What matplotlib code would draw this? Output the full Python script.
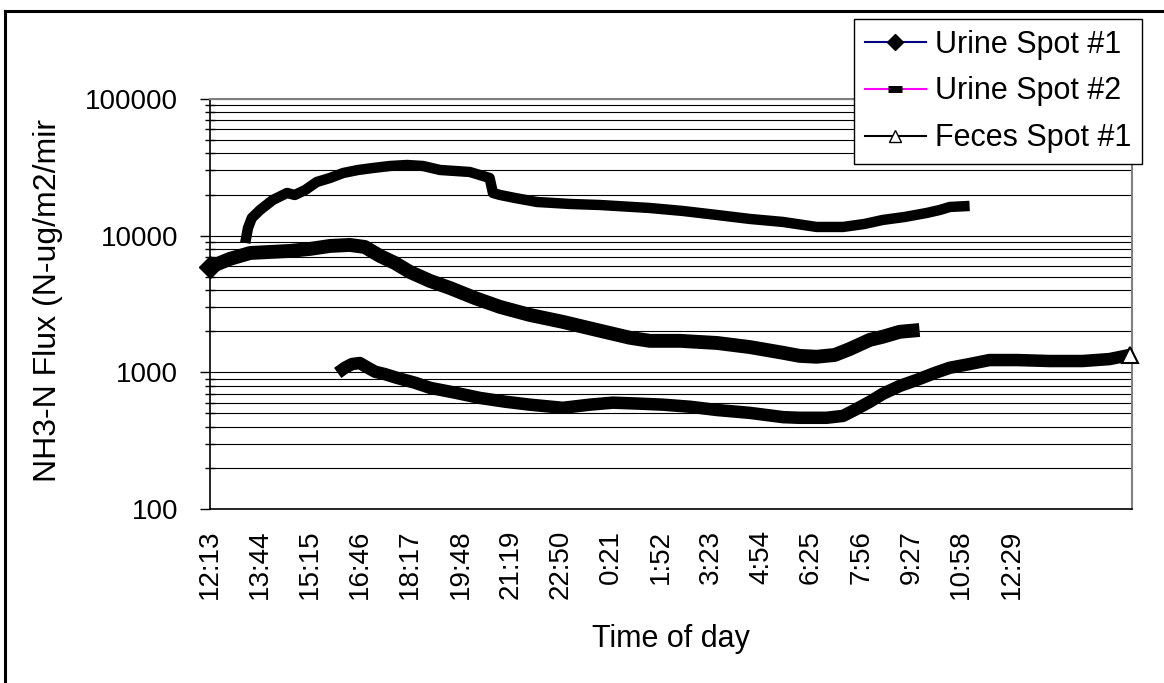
import matplotlib.pyplot as plt
import numpy as np
from matplotlib.lines import Line2D
from matplotlib.ticker import FixedLocator, LogLocator, NullFormatter

plt.rcParams['font.family'] = ['Liberation Sans', 'DejaVu Sans']

# minutes after 12:13, and flux values
u1_t = [0, 36, 73, 109, 145, 182, 218, 254, 281, 309, 336, 363, 400, 436, 481,
        527, 581, 641, 703, 763, 799, 854, 921, 981, 1041, 1071, 1102, 1135,
        1162, 1199, 1222, 1253, 1289]
u1_v = [5900, 6760, 7470, 7600, 7730, 8000, 8410, 8550, 8270, 7100, 6310, 5430,
        4660, 4140, 3500, 3010, 2630, 2340, 2040, 1790, 1700, 1700, 1640, 1530,
        1390, 1320, 1300, 1340, 1480, 1730, 1820, 1980, 2040]

u2_t = [64, 69, 76, 91, 114, 140, 154, 173, 194, 218, 242, 269, 296, 327, 358,
        387, 418, 445, 472, 508, 514, 527, 554, 594, 654, 708, 799, 859, 921,
        981, 1041, 1102, 1150, 1189, 1222, 1262, 1302, 1326, 1344, 1380]
u2_v = [8850, 11390, 13480, 15420, 18240, 20530, 19850, 21590, 24710, 26430,
        28750, 30240, 31270, 32350, 32900, 32350, 30240, 29740, 29240, 26430,
        20530, 19850, 18870, 17640, 17060, 16770, 15940, 15160, 14170, 13250,
        12600, 11580, 11580, 12180, 13030, 13700, 14660, 15420, 16220, 16500]

f1_t = [232, 245, 258, 272, 287, 300, 318, 340, 372, 400, 445, 490, 536, 581,
        641, 690, 732, 781, 823, 872, 921, 981, 1041, 1071, 1120, 1150, 1171,
        1199, 1222, 1253, 1284, 1317, 1344, 1380, 1416, 1466, 1525, 1585, 1634,
        1671]
f1_v = [990, 1080, 1150, 1170, 1080, 1010, 970, 910, 840, 770, 710, 650, 610,
        580, 550, 580, 600, 590, 580, 560, 530, 505, 470, 465, 465, 480, 530,
        610, 695, 795, 880, 990, 1080, 1150, 1230, 1230, 1210, 1210, 1250, 1340]

tick_labels = ['12:13', '13:44', '15:15', '16:46', '18:17', '19:48', '21:19',
               '22:50', '0:21', '1:52', '3:23', '4:54', '6:25', '7:56', '9:27',
               '10:58', '12:29']
series_names = ['Urine Spot #1', 'Urine Spot #2', 'Feces Spot #1']

fig = plt.figure(figsize=(11.64, 6.83), dpi=100)
ax = fig.add_axes([210 / 1164, 1 - 509 / 683, 922 / 1164, 410 / 683])

# thick marker bands
ax.plot(f1_t, f1_v, color='black', lw=9, solid_capstyle='butt', zorder=3)
ax.plot(f1_t[-1:], f1_v[-1:], marker='^', ms=11, mfc='white', mec='black',
        mew=1.5, ls='none', zorder=4, clip_on=False)
ax.plot(u1_t, u1_v, color='black', lw=10, solid_capstyle='butt', zorder=3)
ax.plot(u1_t[:1], u1_v[:1], marker='D', ms=11, color='black', ls='none',
        zorder=4, clip_on=False)
ax.plot(u2_t, u2_v, color='black', lw=7.5, solid_capstyle='butt', zorder=3)

ax.set_yscale('log')
ax.set_ylim(100, 100000)
ax.set_xlim(0, 1675)
ax.yaxis.set_major_locator(FixedLocator([100, 1000, 10000, 100000]))
ax.set_yticklabels(['100', '1000', '10000', '100000'])
ax.yaxis.set_minor_locator(LogLocator(base=10, subs=np.arange(2, 10)))
ax.yaxis.set_minor_formatter(NullFormatter())
ax.grid(True, which='both', axis='y', color='black', lw=0.8, zorder=1)

ax.set_xticks(np.arange(len(tick_labels)) * 91)
ax.set_xticklabels(tick_labels, rotation=90, va='top', ha='center')
ax.tick_params(axis='x', length=0, pad=15, labelsize=20)
ax.tick_params(axis='y', which='major', direction='out', length=7, width=1,
               pad=16, labelsize=20)
ax.tick_params(axis='y', which='minor', direction='inout', length=7, width=1)

for side in ['top', 'right']:
    ax.spines[side].set_color('#808080')
    ax.spines[side].set_linewidth(1.5)
for side in ['left', 'bottom']:
    ax.spines[side].set_color('black')
    ax.spines[side].set_linewidth(1.2)

ax.set_xlabel('Time of day', fontsize=22, labelpad=18)
fig.text(48 / 1164, 1 - 300 / 683, 'NH3-N Flux (N-ug/m2/mir', rotation=90,
         fontsize=23, ha='center', va='center')

handles = [
    Line2D([], [], color='#000080', lw=1.5, marker='D', ms=8, mfc='black', mec='black'),
    Line2D([], [], color='#ff00ff', lw=1.5, marker='_', ms=10, mew=5, mec='black'),
    Line2D([], [], color='black', lw=1.5, marker='^', ms=9, mfc='white', mec='black'),
]
leg = fig.legend(handles, series_names, loc='upper right',
                 bbox_to_anchor=(1142 / 1164, 1 - 19 / 683), fontsize=22,
                 frameon=True, fancybox=False, edgecolor='black', framealpha=1,
                 handlelength=2.0, handletextpad=0.3, labelspacing=0.55,
                 borderpad=0.35, borderaxespad=0)
leg.get_frame().set_linewidth(1)

# outer chart border (top and left edges are visible)
fig.add_artist(Line2D([5 / 1164, 5 / 1164], [0, 1 - 11 / 683], color='black',
                      lw=2.2, transform=fig.transFigure))
fig.add_artist(Line2D([5 / 1164, 1], [1 - 11 / 683, 1 - 11 / 683], color='black',
                      lw=2.2, transform=fig.transFigure))

fig.savefig('out.png', dpi=100)
